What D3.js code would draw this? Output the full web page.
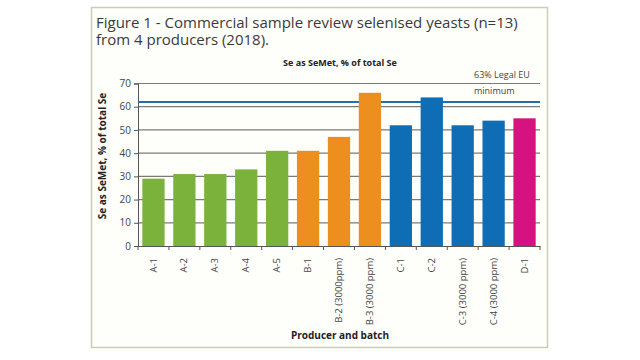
<!DOCTYPE html>
<html><head><meta charset="utf-8">
<script src="https://cdn.jsdelivr.net/npm/d3@7"></script>
<style>body{margin:0;background:#fff}svg{display:block;font-family:"Open Sans",sans-serif}</style>
</head><body><svg id="c" width="640" height="360"></svg>
<script>
const categories = ["A-1","A-2","A-3","A-4","A-5","B-1","B-2 (3000ppm)","B-3 (3000 ppm)","C-1","C-2","C-3 (3000 ppm)","C-4 (3000 ppm)","D-1"];
const values = [29,31,31,33,41,41,47,66,52,64,52,54,55];
const producers = ["A","A","A","A","A","B","B","B","C","C","C","C","D"];
const producerColors = {A:"#7bb23b",B:"#ec8f1e",C:"#0f6db5",D:"#d5127f"};
const yTicks = [0,10,20,30,40,50,60,70];
const legalLine = 62;
const titleLines = ["Figure 1 - Commercial sample review selenised yeasts (n=13)","from 4 producers (2018)."];

const svg = d3.select("#c");
svg.append("rect").attr("x",91.5).attr("y",7.5).attr("width",456).attr("height",340)
  .attr("fill","#fefefb").attr("stroke","#c8cfb3").attr("stroke-width",1.5);

const title = svg.append("text").attr("x",96).attr("y",28).attr("font-size",15).attr("fill","#3a3a3a");
title.selectAll("tspan").data(titleLines).join("tspan")
  .attr("x",96).attr("dy",(d,i)=>i===0?0:16.5).text(d=>d);

const x = d3.scaleBand().domain(categories).range([138,540]).paddingInner(0.28).paddingOuter(0.14);
const y = d3.scaleLinear().domain([0,70]).range([246,83.5]);

// gridlines
svg.append("g").selectAll("line").data(yTicks.slice(1)).join("line")
  .attr("x1",138).attr("x2",540).attr("y1",d=>y(d)).attr("y2",d=>y(d))
  .attr("stroke","#7a7a7a").attr("stroke-width",1.2);

// legal line (behind bars)
svg.append("line").attr("x1",138).attr("x2",540).attr("y1",y(legalLine)).attr("y2",y(legalLine))
  .attr("stroke","#1f6fb5").attr("stroke-width",2);

// bars
svg.append("g").selectAll("rect").data(values).join("rect")
  .attr("x",(d,i)=>x(categories[i])).attr("width",x.bandwidth())
  .attr("y",d=>y(d)).attr("height",d=>y(0)-y(d))
  .attr("fill",(d,i)=>producerColors[producers[i]]);

svg.append("text").attr("x",474).attr("y",78).attr("font-size",9).attr("fill","#444").text("63% Legal EU");
svg.append("text").attr("x",474).attr("y",94).attr("font-size",9).attr("fill","#444").text("minimum");

// y axis
const ya = svg.append("g").attr("transform","translate(138,0)")
  .call(d3.axisLeft(y).tickValues(yTicks).tickSize(4).tickPadding(3));
ya.select(".domain").attr("stroke","#555");
ya.selectAll(".tick line").attr("stroke","#555");
ya.selectAll("text").attr("font-size",10).attr("fill","#444").attr("font-family","Open Sans, sans-serif");

// x axis
const xa = svg.append("g").attr("transform","translate(0,246)")
  .call(d3.axisBottom(x).tickSize(0).tickPadding(0));
xa.select(".domain").attr("stroke","#555");
xa.selectAll(".tick text").attr("font-size",9.5).attr("fill","#444").attr("font-family","Open Sans, sans-serif")
  .attr("text-anchor","end").attr("transform","translate(0,12) rotate(-90)").attr("dy","0.32em").attr("y",0).attr("x",0);
const step = x.step();
const bounds = d3.range(categories.length+1).map(i=>x(categories[0]) - step*x.paddingInner()/2 + i*step);
xa.selectAll("line.sep").data(bounds).join("line").attr("class","sep")
  .attr("x1",d=>d).attr("x2",d=>d).attr("y1",0).attr("y2",4).attr("stroke","#555");

// titles
svg.append("text").attr("x",340).attr("y",66).attr("text-anchor","middle").attr("font-size",9)
  .attr("font-weight","bold").attr("fill","#222").text("Se as SeMet, % of total Se");
svg.append("text").attr("transform","translate(106,156) rotate(-90)").attr("text-anchor","middle")
  .attr("font-size",10).attr("font-weight","bold").attr("fill","#222").text("Se as SeMet, % of total Se");
svg.append("text").attr("x",340).attr("y",339).attr("text-anchor","middle").attr("font-size",10)
  .attr("font-weight","bold").attr("fill","#222").text("Producer and batch");
</script></body></html>
